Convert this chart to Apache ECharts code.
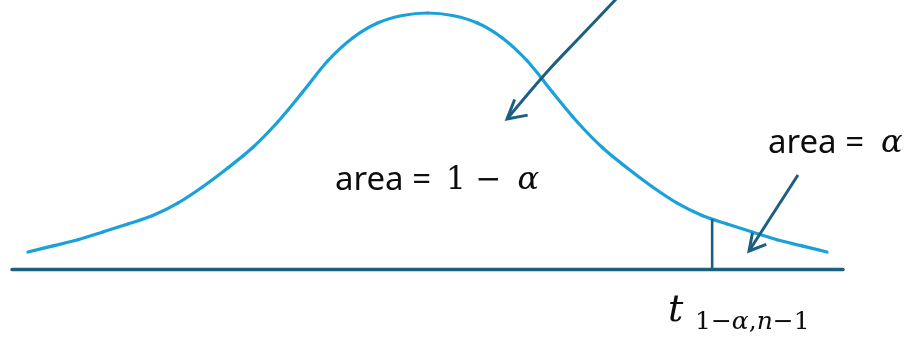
<!DOCTYPE html>
<html>
<head>
<meta charset="utf-8">
<title>t distribution: critical value</title>
<script src="https://cdn.jsdelivr.net/npm/echarts@6/dist/echarts.min.js"></script>
<style>
  html, body { margin: 0; padding: 0; background: #ffffff; }
  #chart { width: 914px; height: 341px; }
</style>
</head>
<body>
<div id="chart"></div>
<script>
// Density curve of the t distribution (t value on x, density on y)
const tValues = [-4.00, -3.75, -3.50, -3.25, -3.00, -2.75, -2.50, -2.25, -2.00, -1.75, -1.50,
                 -1.25, -1.00, -0.75, -0.50, -0.25, 0.00, 0.25, 0.50, 0.75, 1.00,
                  1.25, 1.50, 1.75, 2.00, 2.25, 2.50, 2.75, 3.00, 3.25, 3.50, 3.75, 4.00];
const density = [0.0265, 0.0361, 0.0456, 0.0578, 0.0703, 0.0835, 0.1029, 0.1285, 0.1577, 0.1897, 0.2295,
                 0.2763, 0.3247, 0.3607, 0.3841, 0.3958, 0.3997, 0.3958, 0.3841, 0.3607, 0.3247,
                 0.2763, 0.2295, 0.1897, 0.1577, 0.1285, 0.1029, 0.0835, 0.0703, 0.0578, 0.0456, 0.0361, 0.0265];

// Critical value t(1-a, n-1) and the curve height above it
const tCritical = 2.85;
const densityAtCritical = 0.0778;

// Text shown on the figure
const centreLabel = ['area =', '1 \u2212 ', '\u03b1'];
const tailLabel = ['area =', '\u03b1'];
const criticalLabel = ['t', '1\u2212', '\u03b1', ',', 'n', '\u22121'];

const CURVE = '#1ba1da';
const DARK = '#1d5f80';
const INK = '#0d0d0d';
const SANS = '"Noto Sans", "Open Sans", sans-serif';
const SERIF = '"DejaVu Serif", "Liberation Serif", serif';

// Annotation layout, in (t, density) units
const notes = {
  arrows: [
    { path: [[1.917, 0.4262], [1.527, 0.3622], [1.196, 0.3076], [0.796, 0.2342]], head: 21, turn: 10 },
    { path: [[3.709, 0.1468], [3.219, 0.0281]], head: 18.5, turn: 7 }
  ],
  centre: { word: [-0.926, 0.138], math: [0.185, 0.1374], mathGap: 6 },
  tail: { word: [3.409, 0.1958], alpha: [4.54, 0.1950] },
  critical: { main: [2.408, -0.066], sub: [2.678, -0.0837] }
};

const chart = echarts.init(document.getElementById('chart'), null, { renderer: 'canvas' });

// Smooth density curve: Catmull-Rom segments through the data points
function renderCurve(params, api) {
  if (params.dataIndexInside !== 0) return null;
  const n = params.dataInsideLength;
  const pts = [];
  for (let i = 0; i < n; i++) pts.push(api.coord([api.value(0, i), api.value(1, i)]));
  const segs = [];
  for (let i = 0; i < n - 1; i++) {
    const p0 = pts[Math.max(i - 1, 0)], p1 = pts[i], p2 = pts[i + 1], p3 = pts[Math.min(i + 2, n - 1)];
    segs.push({
      type: 'bezierCurve',
      shape: {
        x1: p1[0], y1: p1[1], x2: p2[0], y2: p2[1],
        cpx1: p1[0] + (p2[0] - p0[0]) / 6, cpy1: p1[1] + (p2[1] - p0[1]) / 6,
        cpx2: p2[0] - (p3[0] - p1[0]) / 6, cpy2: p2[1] - (p3[1] - p1[1]) / 6
      },
      style: { stroke: CURVE, lineWidth: 3.2, fill: null, lineCap: 'round' }
    });
  }
  return { type: 'group', children: segs };
}

function renderNotes(params, api) {
  const P = (v) => api.coord(v);
  const kids = [];

  // vertical rule at the critical value
  const b = P([tCritical, 0]);
  const t = P([tCritical, densityAtCritical]);
  kids.push({ type: 'line', shape: { x1: b[0], y1: b[1], x2: t[0], y2: t[1] },
              style: { stroke: DARK, lineWidth: 2.6 } });

  // arrows with open chevron heads
  notes.arrows.forEach(function (a) {
    const pts = a.path.map(P);
    kids.push({ type: 'polyline', shape: { points: pts, smooth: pts.length > 2 ? 0.35 : 0 },
                style: { stroke: DARK, lineWidth: 3, fill: null, lineCap: 'butt' } });
    const tip = pts[pts.length - 1];
    const prev = pts[pts.length - 2];
    const back = Math.atan2(prev[1] - tip[1], prev[0] - tip[0]) + a.turn * Math.PI / 180;
    const half = 29 * Math.PI / 180;
    const p1 = [tip[0] + a.head * Math.cos(back - half), tip[1] + a.head * Math.sin(back - half)];
    const p2 = [tip[0] + a.head * Math.cos(back + half), tip[1] + a.head * Math.sin(back + half)];
    kids.push({ type: 'polyline', shape: { points: [p1, tip, p2] },
                style: { stroke: DARK, lineWidth: 3, fill: null, lineJoin: 'miter', lineCap: 'butt' } });
  });

  function text(pos, str, font, extra) {
    const p = P(pos);
    const style = Object.assign({ text: str, fill: INK, font: font, align: 'left', verticalAlign: 'middle' }, extra || {});
    kids.push({ type: 'text', x: p[0], y: p[1], style: style });
  }

  // centre label: area = 1 - alpha
  text(notes.centre.word, centreLabel[0], '33px ' + SANS);
  text(notes.centre.math, '{n|' + centreLabel[1] + '}{g|' + centreLabel[2] + '}', '31px ' + SERIF, {
    rich: {
      n: { font: '31px ' + SERIF, fill: INK },
      g: { font: 'italic 32px ' + SERIF, fill: INK, padding: [0, 0, 0, notes.centre.mathGap] }
    }
  });

  // tail label: area = alpha
  text(notes.tail.word, tailLabel[0], '33px ' + SANS);
  text(notes.tail.alpha, tailLabel[1], 'italic 32px ' + SERIF);

  // critical value label: t with subscript
  text(notes.critical.main, criticalLabel[0], 'italic 38px ' + SERIF);
  text(notes.critical.sub,
       '{r|' + criticalLabel[1] + '}{i|' + criticalLabel[2] + '}{r|' + criticalLabel[3] + '}{i|' +
       criticalLabel[4] + '}{r|' + criticalLabel[5] + '}', '25px ' + SERIF, {
    rich: {
      r: { font: '25px ' + SERIF, fill: INK },
      i: { font: 'italic 25px ' + SERIF, fill: INK }
    }
  });

  return { type: 'group', children: kids };
}

chart.setOption({
  animation: false,
  backgroundColor: '#ffffff',
  grid: { left: 12, right: 71, top: 0, bottom: 72, containLabel: false },
  xAxis: {
    type: 'value', min: -4.16, max: 4.16,
    axisLine: { show: true, onZero: true, lineStyle: { color: DARK, width: 3.4 } },
    axisTick: { show: false }, axisLabel: { show: false }, splitLine: { show: false }
  },
  yAxis: {
    type: 'value', min: 0, max: 0.42, show: false,
    splitLine: { show: false }
  },
  series: [
    {
      name: 't density',
      type: 'custom',
      data: tValues.map((x, i) => [x, density[i]]),
      encode: { x: 0, y: 1 },
      renderItem: renderCurve,
      clip: false,
      silent: true,
      z: 2
    },
    {
      type: 'custom',
      data: [0],
      renderItem: renderNotes,
      clip: false,
      silent: true,
      z: 3
    }
  ]
});
</script>
</body>
</html>
